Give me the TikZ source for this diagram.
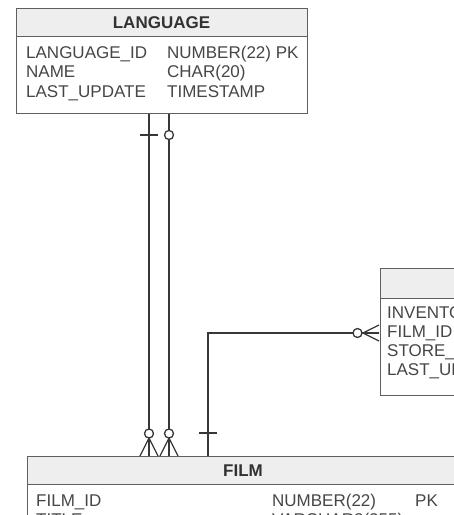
\documentclass[tikz,border=0pt]{standalone}
\usepackage{fontspec}
\setmainfont{Liberation Sans}
\definecolor{boxc}{RGB}{95,95,95}
\definecolor{headc}{RGB}{238,238,238}
\definecolor{txtc}{RGB}{70,70,70}
\definecolor{ttlc}{RGB}{50,50,50}
\definecolor{linec}{RGB}{55,55,55}
\begin{document}
\begin{tikzpicture}[x=1pt,y=-1pt,
  box/.style={draw=boxc, line width=1.4pt, fill=white, inner sep=0pt, anchor=north west},
  head/.style={draw=boxc, line width=1.4pt, fill=headc, inner sep=0pt, anchor=north west},
  rowtxt/.style={anchor=base west, inner sep=0pt, text=txtc, font=\fontsize{17}{19}\selectfont},
  titletxt/.style={anchor=base, inner sep=0pt, text=ttlc, font=\fontsize{17}{19}\selectfont\bfseries},
  rel/.style={draw=linec, line width=1.3pt},
  knob/.style={draw=linec, line width=1.3pt, fill=white}
]
\useasboundingbox (0,0) rectangle (454,515);
\clip (0,0) rectangle (454,515);

% ---------- connector end points ----------
\coordinate (lA) at (149,113);
\coordinate (fA) at (149,456);
\coordinate (lB) at (169,113);
\coordinate (fB) at (169,456);
\coordinate (fC) at (208,456);
\coordinate (iC) at (379,333);

% ---------- connectors ----------
\draw[rel] (lA) -- (fA);
\draw[rel] (lB) -- (fB);
\draw[rel] (fC) |- (iC);

% LANGUAGE side marks
\draw[rel] (140,135) -- (158,135);
\draw[knob] (169,135) circle[radius=4.5pt];
% FILM side crow's feet (language links)
\draw[rel] (149,438) -- (140,456) (149,438) -- (149,456) (149,438) -- (158,456);
\draw[knob] (149,433.5) circle[radius=4.5pt];
\draw[rel] (169,438) -- (160,456) (169,438) -- (169,456) (169,438) -- (178,456);
\draw[knob] (169,433.5) circle[radius=4.5pt];
% FILM side bar (inventory link)
\draw[rel] (199,433) -- (217,433);
% INVENTORY side crow's foot
\draw[rel] (363,333) -- (379,325) (363,333) -- (379,333) (363,333) -- (379,341);
\draw[knob] (357.5,333) circle[radius=4.5pt];

% ---------- LANGUAGE ----------
\node[box, minimum width=291pt, minimum height=105pt] (langbox) at (16,8) {};
\node[head, minimum width=291pt, minimum height=28pt] (langhead) at (16,8) {};
\node[titletxt] (langtitle) at (161.5,28) {LANGUAGE};
\node[rowtxt] (l1a) at (26,58) {LANGUAGE\_ID};
\node[rowtxt] (l1b) at (167,58) {NUMBER(22) PK};
\node[rowtxt] (l2a) at (26,77.5) {NAME};
\node[rowtxt] (l2b) at (167,77.5) {CHAR(20)};
\node[rowtxt] (l3a) at (26,97) {LAST\_UPDATE};
\node[rowtxt] (l3b) at (167,97) {TIMESTAMP};

% ---------- INVENTORY ----------
\node[box, minimum width=160pt, minimum height=127pt] (invbox) at (379.5,268) {};
\node[head, minimum width=160pt, minimum height=30pt] (invhead) at (379.5,268) {};
\node[rowtxt] (i1) at (387,318) {INVENTORY\_ID};
\node[rowtxt] (i2) at (387,337) {FILM\_ID};
\node[rowtxt] (i3) at (387,356) {STORE\_ID};
\node[rowtxt] (i4) at (387,375) {LAST\_UPDATE};

% ---------- FILM ----------
\node[box, minimum width=432pt, minimum height=120pt] (filmbox) at (27,456) {};
\node[head, minimum width=432pt, minimum height=28pt] (filmhead) at (27,456) {};
\node[titletxt] (filmtitle) at (243,476) {FILM};
\node[rowtxt] (f1a) at (36,506) {FILM\_ID};
\node[rowtxt] (f1b) at (272,506) {NUMBER(22)};
\node[rowtxt] (f1c) at (415,506) {PK};
\node[rowtxt] (f2a) at (36,525.5) {TITLE};
\node[rowtxt] (f2b) at (272,525.5) {VARCHAR2(255)};
\end{tikzpicture}
\end{document}
